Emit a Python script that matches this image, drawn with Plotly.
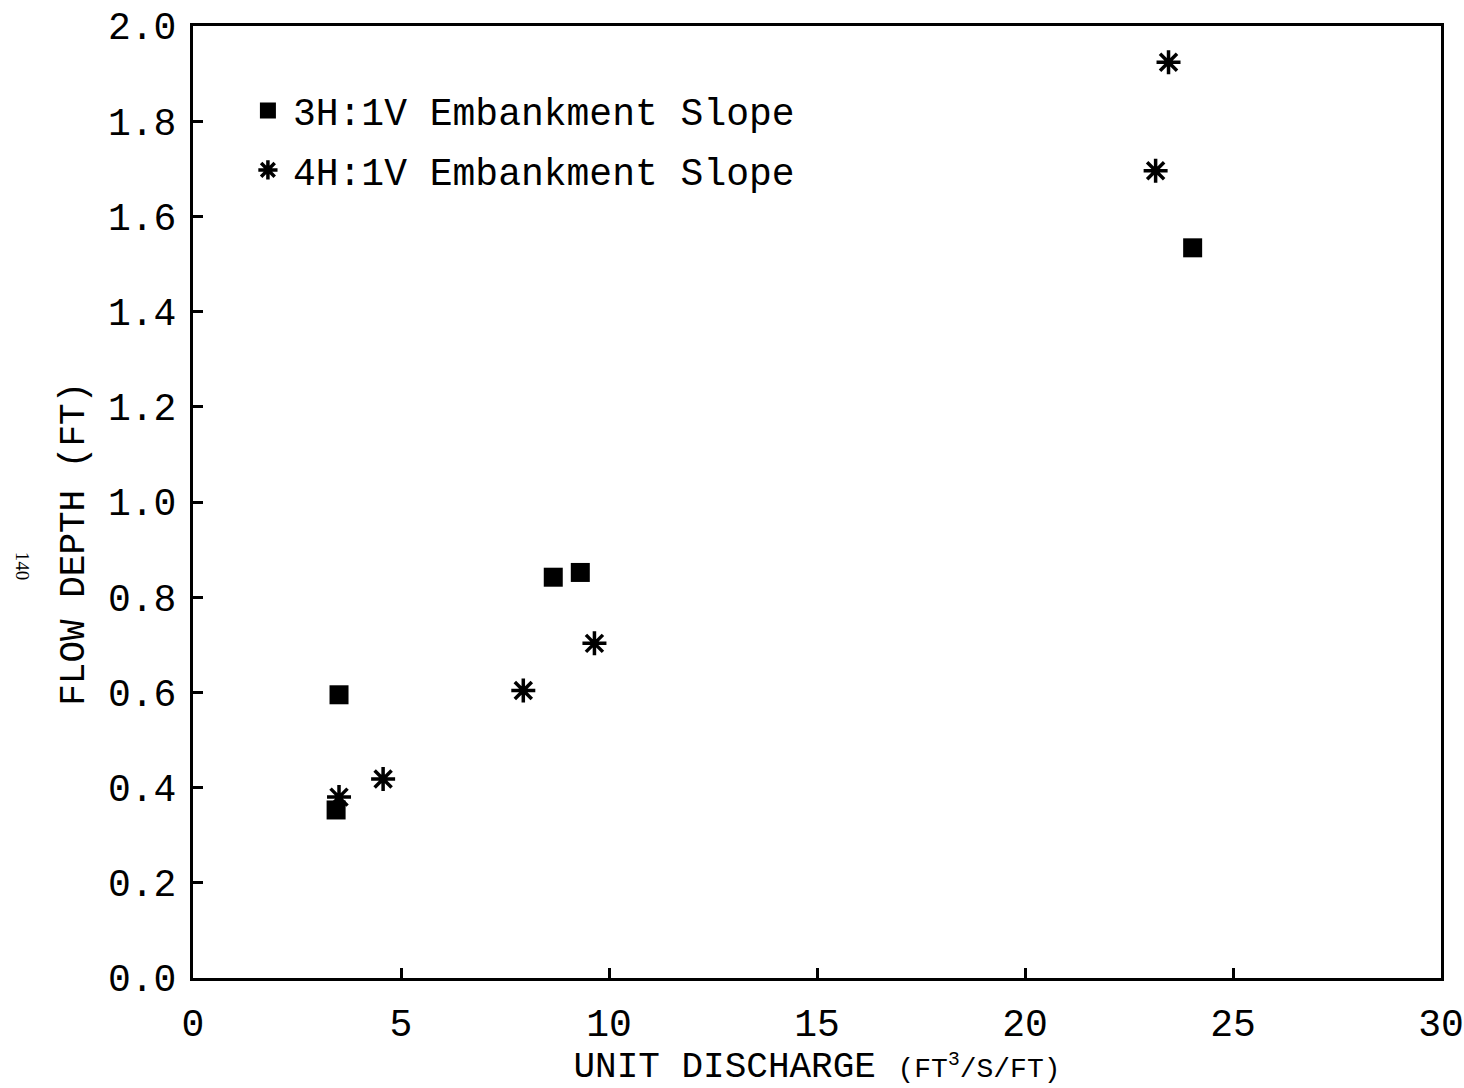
import plotly.graph_objects as go

# Unit discharge (ft^3/s/ft) vs. flow depth (ft) for two embankment slopes
q_3h1v = [3.51, 3.44, 8.66, 9.31, 24.03]
d_3h1v = [0.595, 0.353, 0.842, 0.852, 1.534]

q_4h1v = [3.51, 4.57, 7.94, 9.65, 23.14, 23.45]
d_4h1v = [0.38, 0.418, 0.604, 0.703, 1.696, 1.924]

x_ticks = [0, 5, 10, 15, 20, 25, 30]
y_ticks = [0.0, 0.2, 0.4, 0.6, 0.8, 1.0, 1.2, 1.4, 1.6, 1.8, 2.0]

FONT = "Liberation Mono"

fig = go.Figure()
fig.add_trace(go.Scatter(
    x=q_3h1v, y=d_3h1v, mode="markers", name="3H:1V Embankment Slope",
    legendgroup="a",
    marker=dict(symbol="square", size=19, color="black"),
))
fig.add_trace(go.Scatter(
    x=q_4h1v, y=d_4h1v, mode="markers", name="4H:1V Embankment Slope",
    legendgroup="b",
    marker=dict(symbol="asterisk-open", size=20, color="black",
                line=dict(width=3.5, color="black")),
))

axis_common = dict(
    showline=True, linecolor="black", linewidth=3, mirror=True,
    showgrid=False, zeroline=False, automargin=False,
    ticks="inside", tickcolor="black", tickwidth=2.5, ticklen=10,
    tickfont=dict(family=FONT, size=38, color="black"),
)

fig.update_xaxes(
    range=[0, 30], tickvals=x_ticks, ticktext=[str(v) for v in x_ticks],
    ticklabelstandoff=9,
    title=dict(
        text="UNIT DISCHARGE <span style='font-size:28px'>(FT<sup>3</sup>/S/FT)</span>",
        font=dict(family=FONT, size=36, color="black"), standoff=9),
    **axis_common,
)
fig.update_yaxes(
    range=[0, 2.0], tickvals=y_ticks, ticktext=[f"{v:.1f}" for v in y_ticks],
    ticklabelstandoff=6,
    **axis_common,
)

# y-axis title placed slightly below the plot's vertical centre
fig.add_annotation(
    text="FLOW DEPTH (FT)", xref="paper", yref="paper",
    x=-0.0946, y=0.456, xanchor="center", yanchor="middle",
    showarrow=False, textangle=-90,
    font=dict(family=FONT, size=36, color="black"),
)

# page number in the margin
fig.add_annotation(
    text="140", xref="paper", yref="paper", x=-0.137, y=0.433,
    xanchor="center", yanchor="middle",
    showarrow=False, textangle=90,
    font=dict(family="Liberation Serif", size=19, color="black"),
)

fig.update_layout(
    width=1464, height=1088,
    margin=dict(l=193, r=23, t=26, b=110),
    paper_bgcolor="white", plot_bgcolor="white",
    showlegend=True,
    legend=dict(
        x=0.04, y=0.944, xanchor="left", yanchor="top",
        bgcolor="rgba(0,0,0,0)", borderwidth=0,
        font=dict(family=FONT, size=38, color="black"),
        tracegroupgap=7, itemwidth=40,
    ),
)

fig.write_html("out.html")
